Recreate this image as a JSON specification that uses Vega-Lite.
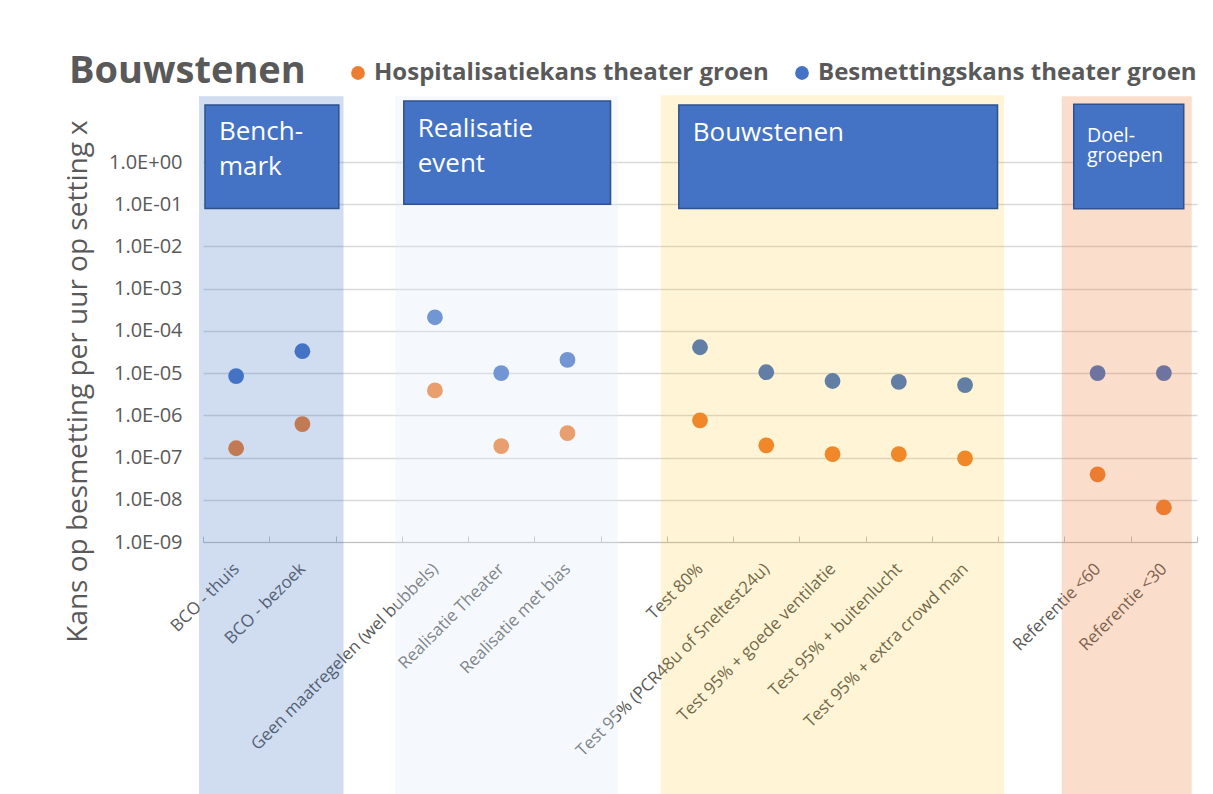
{
  "$schema": "https://vega.github.io/schema/vega-lite/v6.json",
  "autosize": {"type": "none"},
  "width": 994,
  "height": 380,
  "padding": {"left": 203, "top": 162, "right": 16, "bottom": 252},
  "background": "white",
  "config": {
    "view": {"stroke": null},
    "font": "Open Sans"
  },
  "title": {
    "text": "Bouwstenen",
    "anchor": "start",
    "frame": "group",
    "font": "Open Sans",
    "fontSize": 38,
    "fontWeight": "bold",
    "color": "#595959",
    "baseline": "alphabetic",
    "offset": -60,
    "dx": -134
  },
  "datasets": {
    "punten": [
      {"setting": "BCO - thuis", "reeks": "Besmettingskans theater groen", "kans": 8.5e-6},
      {"setting": "BCO - thuis", "reeks": "Hospitalisatiekans theater groen", "kans": 1.66e-7},
      {"setting": "BCO - bezoek", "reeks": "Besmettingskans theater groen", "kans": 3.3e-5},
      {"setting": "BCO - bezoek", "reeks": "Hospitalisatiekans theater groen", "kans": 6.2e-7},
      {"setting": "Geen maatregelen (wel bubbels)", "reeks": "Besmettingskans theater groen", "kans": 2.1e-4},
      {"setting": "Geen maatregelen (wel bubbels)", "reeks": "Hospitalisatiekans theater groen", "kans": 3.9e-6},
      {"setting": "Realisatie Theater", "reeks": "Besmettingskans theater groen", "kans": 1.0e-5},
      {"setting": "Realisatie Theater", "reeks": "Hospitalisatiekans theater groen", "kans": 1.87e-7},
      {"setting": "Realisatie met bias", "reeks": "Besmettingskans theater groen", "kans": 2.05e-5},
      {"setting": "Realisatie met bias", "reeks": "Hospitalisatiekans theater groen", "kans": 3.8e-7},
      {"setting": "Test 80%", "reeks": "Besmettingskans theater groen", "kans": 4.1e-5},
      {"setting": "Test 80%", "reeks": "Hospitalisatiekans theater groen", "kans": 7.6e-7},
      {"setting": "Test 95% (PCR48u of Sneltest24u)", "reeks": "Besmettingskans theater groen", "kans": 1.05e-5},
      {"setting": "Test 95% (PCR48u of Sneltest24u)", "reeks": "Hospitalisatiekans theater groen", "kans": 1.95e-7},
      {"setting": "Test 95% + goede ventilatie", "reeks": "Besmettingskans theater groen", "kans": 6.5e-6},
      {"setting": "Test 95% + goede ventilatie", "reeks": "Hospitalisatiekans theater groen", "kans": 1.2e-7},
      {"setting": "Test 95% + buitenlucht", "reeks": "Besmettingskans theater groen", "kans": 6.2e-6},
      {"setting": "Test 95% + buitenlucht", "reeks": "Hospitalisatiekans theater groen", "kans": 1.2e-7},
      {"setting": "Test 95% + extra crowd man", "reeks": "Besmettingskans theater groen", "kans": 5.2e-6},
      {"setting": "Test 95% + extra crowd man", "reeks": "Hospitalisatiekans theater groen", "kans": 9.6e-8},
      {"setting": "Referentie <60", "reeks": "Besmettingskans theater groen", "kans": 1.0e-5},
      {"setting": "Referentie <60", "reeks": "Hospitalisatiekans theater groen", "kans": 4.0e-8},
      {"setting": "Referentie <30", "reeks": "Besmettingskans theater groen", "kans": 1.0e-5},
      {"setting": "Referentie <30", "reeks": "Hospitalisatiekans theater groen", "kans": 6.6e-9}
    ],
    "zones": [
      {"groep": "Benchmark", "x0": -0.06, "x1": 2.12, "top": 36, "bottom": 1e-16},
      {"groep": "Realisatie", "x0": 2.9, "x1": 6.26, "top": 36, "bottom": 1e-16},
      {"groep": "Bouwstenen", "x0": 6.91, "x1": 12.09, "top": 38, "bottom": 1e-16},
      {"groep": "Doelgroepen", "x0": 12.96, "x1": 14.92, "top": 36, "bottom": 1e-16}
    ],
    "vakken": [
      {"groep": "Benchmark", "x0": 0.03, "x1": 2.05, "top": 22.3, "bottom": 0.0787},
      {"groep": "Realisatie", "x0": 3.03, "x1": 6.15, "top": 27.7, "bottom": 0.1005},
      {"groep": "Bouwstenen", "x0": 7.18, "x1": 11.99, "top": 22.3, "bottom": 0.079},
      {"groep": "Doelgroepen", "x0": 13.14, "x1": 14.8, "top": 23.2, "bottom": 0.078}
    ],
    "tekstGroot": [
      {"tekst": "Bench-\nmark", "x": 0.24, "y": 3.3},
      {"tekst": "Realisatie\nevent", "x": 3.24, "y": 3.95},
      {"tekst": "Bouwstenen", "x": 7.39, "y": 3.18}
    ],
    "tekstKlein": [
      {"tekst": "Doel-\ngroepen", "x": 13.34, "y": 3.01}
    ]
  },
  "layer": [
    {
      "data": {"name": "punten"},
      "mark": {"type": "circle", "size": 250, "opacity": 1},
      "encoding": {
        "x": {
          "field": "setting",
          "type": "nominal",
          "scale": {
            "domain": ["BCO - thuis", "BCO - bezoek", " ", "Geen maatregelen (wel bubbels)", "Realisatie Theater", "Realisatie met bias", "  ", "Test 80%", "Test 95% (PCR48u of Sneltest24u)", "Test 95% + goede ventilatie", "Test 95% + buitenlucht", "Test 95% + extra crowd man", "   ", "Referentie <60", "Referentie <30"],
            "paddingInner": 0,
            "paddingOuter": 0
          },
          "axis": {
            "title": null,
            "labelAngle": -45,
            "labelAlign": "right",
            "labelBaseline": "middle",
            "labelFontSize": 17,
            "labelColor": "#595959",
            "labelPadding": 30,
            "labelOverlap": false,
            "labelLimit": 400,
            "tickBand": "extent",
            "tickColor": "#BFBFBF",
            "tickSize": -6,
            "domainColor": "#BFBFBF",
            "grid": false
          }
        },
        "y": {
          "field": "kans",
          "type": "quantitative",
          "scale": {"type": "log", "domain": [1e-9, 1], "nice": false},
          "axis": {
            "title": "Kans op besmetting per uur op setting x",
            "titleFontSize": 28,
            "titleFontWeight": "normal",
            "titleColor": "#595959",
            "titleX": -117,
            "titleY": 219,
            "titleBaseline": "alphabetic",
            "titleAlign": "center",
            "titleAngle": -90,
            "values": [1e-9, 1e-8, 1e-7, 1e-6, 1e-5, 1e-4, 1e-3, 1e-2, 1e-1, 1],
            "labelExpr": "'1.0E' + (round(log(datum.value)/LN10) >= 0 ? '+' : '-') + (abs(round(log(datum.value)/LN10)) < 10 ? '0' : '') + abs(round(log(datum.value)/LN10))",
            "labelFontSize": 20,
            "labelColor": "#595959",
            "labelPadding": 21,
            "ticks": false,
            "domain": false,
            "grid": true,
            "gridColor": "#D9D9D9",
            "gridWidth": 1.3
          }
        },
        "color": {
          "field": "reeks",
          "type": "nominal",
          "scale": {
            "domain": ["Hospitalisatiekans theater groen", "Besmettingskans theater groen"],
            "range": ["#ED7D31", "#4472C4"]
          },
          "legend": {
            "title": null,
            "orient": "none",
            "legendX": 143,
            "legendY": -101,
            "direction": "horizontal",
            "symbolType": "circle",
            "symbolSize": 190,
            "symbolOpacity": 1,
            "symbolStrokeWidth": 0,
            "labelFont": "Open Sans",
            "labelFontSize": 24,
            "labelFontWeight": "bold",
            "labelColor": "#595959",
            "labelLimit": 600,
            "labelOffset": 4,
            "columnPadding": 21
          }
        }
      }
    },
    {
      "layer": [
        {
          "data": {"name": "zones"},
          "mark": {"type": "rect"},
          "encoding": {
            "x": {"field": "x0", "type": "quantitative", "scale": {"domain": [0, 15], "nice": false, "zero": false}, "axis": null},
            "x2": {"field": "x1"},
            "y": {"field": "top", "type": "quantitative", "scale": {"type": "log", "domain": [1e-9, 1], "nice": false}},
            "y2": {"field": "bottom"},
            "fill": {
              "field": "groep",
              "type": "nominal",
              "scale": {"domain": ["Benchmark", "Realisatie", "Bouwstenen", "Doelgroepen"], "range": ["rgba(68,114,196,0.25)", "rgba(222,235,247,0.3)", "rgba(255,192,0,0.16)", "rgba(237,125,49,0.25)"]},
              "legend": null
            }
          }
        },
        {
          "data": {"name": "vakken"},
          "mark": {"type": "rect", "fill": "#4472C4", "stroke": "#2F528F", "strokeWidth": 1.5, "opacity": 1},
          "encoding": {
            "x": {"field": "x0", "type": "quantitative", "scale": {"domain": [0, 15], "nice": false, "zero": false}, "axis": null},
            "x2": {"field": "x1"},
            "y": {"field": "top", "type": "quantitative", "scale": {"type": "log", "domain": [1e-9, 1], "nice": false}},
            "y2": {"field": "bottom"}
          }
        },
        {
          "data": {"name": "tekstGroot"},
          "mark": {"type": "text", "align": "left", "baseline": "alphabetic", "lineBreak": "\n", "lineHeight": 35, "fontSize": 26, "font": "Open Sans", "color": "white"},
          "encoding": {
            "x": {"field": "x", "type": "quantitative", "scale": {"domain": [0, 15], "nice": false, "zero": false}, "axis": null},
            "y": {"field": "y", "type": "quantitative", "scale": {"type": "log", "domain": [1e-9, 1], "nice": false}},
            "text": {"field": "tekst"}
          }
        },
        {
          "data": {"name": "tekstKlein"},
          "mark": {"type": "text", "align": "left", "baseline": "alphabetic", "lineBreak": "\n", "lineHeight": 20.5, "fontSize": 19.5, "font": "Open Sans", "color": "white"},
          "encoding": {
            "x": {"field": "x", "type": "quantitative", "scale": {"domain": [0, 15], "nice": false, "zero": false}, "axis": null},
            "y": {"field": "y", "type": "quantitative", "scale": {"type": "log", "domain": [1e-9, 1], "nice": false}},
            "text": {"field": "tekst"}
          }
        }
      ]
    }
  ],
  "resolve": {"scale": {"x": "independent"}}
}
